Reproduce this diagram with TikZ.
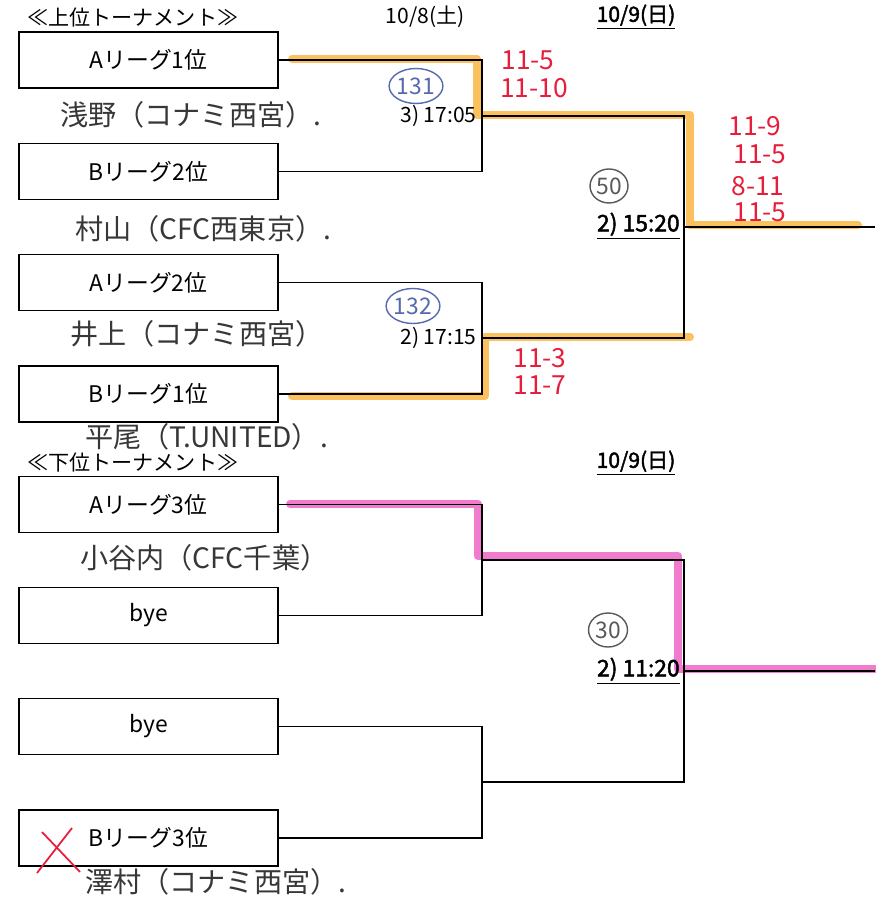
\documentclass[tikz,border=0pt]{standalone}
\usepackage{fontspec}
\setmainfont[AutoFakeBold=2]{Noto Sans CJK JP}
\usetikzlibrary{calc,shapes.geometric}
\definecolor{orangemark}{RGB}{248,172,40}
\definecolor{pinkmark}{RGB}{236,80,190}
\definecolor{pen}{RGB}{55,55,55}
\definecolor{redpen}{RGB}{230,30,60}
\definecolor{bluepen}{RGB}{85,105,175}
\tikzset{
	team/.style={draw, line width=0.8pt, minimum width=5.18cm, minimum height=1.12cm, inner sep=0pt, font=\fontsize{13}{15}\selectfont},
	bracket/.style={line width=0.6pt},
	title/.style={inner sep=0pt, font=\fontsize{12}{14}\selectfont},
	time/.style={inner sep=0pt, anchor=east, font=\fontsize{12}{14}\selectfont},
	hand/.style={inner sep=0pt, anchor=west, color=pen, font=\fontsize{16}{18}\selectfont},
	score/.style={inner sep=0pt, color=redpen, font=\fontsize{15}{17}\selectfont},
	gamenum/.style={draw, ellipse, line width=0.8pt, inner sep=0pt, minimum width=0.9cm, minimum height=0.7cm, font=\fontsize{13}{15}\selectfont},
	marker/.style={line width=4.5pt, opacity=0.75, line join=round, line cap=round}
}

\begin{document}
\begin{tikzpicture}[x=0.02cm, y=-0.02cm]
		%%%%% START %%%%%
		\useasboundingbox (0, 0) rectangle (875, 908);
		
		% highlighter strokes
		\draw[marker, color=orangemark] (292, 59) -- (477, 59) -- (477, 115) -- (690, 115) -- (690, 225) -- (858, 225);
		\draw[marker, color=orangemark] (292, 396) -- (485, 396) -- (485, 337) -- (690, 337);
		\draw[marker, color=pinkmark] (290, 504) -- (478, 504) -- (478, 556) -- (678, 556) -- (678, 669) -- (875, 669);
		
		% upper tournament
		\node[title, anchor=west] (uphead) at (27, 17) {≪上位トーナメント≫};
		\node[title] (day1) at (425, 17) {10/8(土)};
		\node[title, font=\fontsize{12}{14}\selectfont\bfseries] (day2) at (636, 17) {\underline{10/9(日)}};
		
		\node[team] (a1) at (148.5, 60) {Aリーグ1位};
		\node[team] (b2) at (148.5, 171.5) {Bリーグ2位};
		\node[team] (a2) at (148.5, 282.5) {Aリーグ2位};
		\node[team] (b1) at (148.5, 394) {Bリーグ1位};
		
		\coordinate (q1) at (482, 116);
		\coordinate (q2) at (482, 338);
		\coordinate (s1) at (684, 227);
		\coordinate (win1) at (875, 227);
		
		\draw[bracket] (a1.east) -| (q1) |- (b2.east);
		\draw[bracket] (a2.east) -| (q2) |- (b1.east);
		\draw[bracket] (q1) -| (s1) |- (q2);
		\draw[bracket] (s1) -- (win1);
		
		\node[time] (t1) at ($(q1)+(-5, 0)$) {3) 17:05};
		\node[time] (t2) at ($(q2)+(-5, 0)$) {2) 17:15};
		\node[time, font=\fontsize{13}{15}\selectfont\bfseries] (t3) at ($(s1)+(-4, -1)$) {\underline{2) 15:20}};
		
		% lower tournament
		\node[title, anchor=west] (lowhead) at (27, 463) {≪下位トーナメント≫};
		\node[title, font=\fontsize{12}{14}\selectfont\bfseries] (day3) at (636, 463) {\underline{10/9(日)}};
		
		\node[team] (a3) at (148.5, 504.5) {Aリーグ3位};
		\node[team] (bye1) at (148.5, 615.5) {bye};
		\node[team] (bye2) at (148.5, 726.5) {bye};
		\node[team] (b3) at (148.5, 838) {Bリーグ3位};
		
		\coordinate (q3) at (482, 560);
		\coordinate (q4) at (482, 782);
		\coordinate (s2) at (684, 671);
		\coordinate (win2) at (875, 671);
		
		\draw[bracket] (a3.east) -| (q3) |- (bye1.east);
		\draw[bracket] (bye2.east) -| (q4) |- (b3.east);
		\draw[bracket] (q3) -| (s2) |- (q4);
		\draw[bracket] (s2) -- (win2);
		
		\node[time, font=\fontsize{13}{15}\selectfont\bfseries] (t4) at ($(s2)+(-4, 0)$) {\underline{2) 11:20}};
		
		% handwritten names
		\node[hand] (n1) at (60, 115) {浅野（コナミ西宮）.};
		\node[hand] (n2) at (75, 229) {村山（CFC西東京）.};
		\node[hand] (n3) at (70, 334) {井上（コナミ西宮）};
		\node[hand] (n4) at (85, 437) {平尾（T.UNITED）.};
		\node[hand] (n5) at (80, 558) {小谷内（CFC千葉）};
		\node[hand] (n6) at (85, 882) {澤村（コナミ西宮）.};
		
		% game numbers
		\node[gamenum, color=bluepen] (g131) at (416, 86) {131};
		\node[gamenum, color=bluepen, minimum width=1cm] (g132) at (413, 306) {132};
		\node[gamenum, color=black!65, minimum width=0.76cm, minimum height=0.68cm] (g50) at (609, 186) {50};
		\node[gamenum, color=black!65, minimum width=0.78cm, minimum height=0.68cm] (g30) at (608, 630) {30};
		
		% scores
		\node[score] (sc1) at (528, 60) {11-5};
		\node[score] (sc2) at (534, 88) {11-10};
		\node[score] (sc3) at (755, 126) {11-9};
		\node[score] (sc4) at (760, 154) {11-5};
		\node[score] (sc5) at (758, 186) {8-11};
		\node[score] (sc6) at (760, 212) {11-5};
		\node[score] (sc7) at (540, 358) {11-3};
		\node[score] (sc8) at (540, 385) {11-7};
		
		% cross
		\draw[line width=1pt, color=redpen] (42, 832) -- (80, 872);
		\draw[line width=1pt, color=redpen] (72, 828) -- (37, 873);
		
		%%%%% END %%%%%
	\end{tikzpicture}
\end{document}
